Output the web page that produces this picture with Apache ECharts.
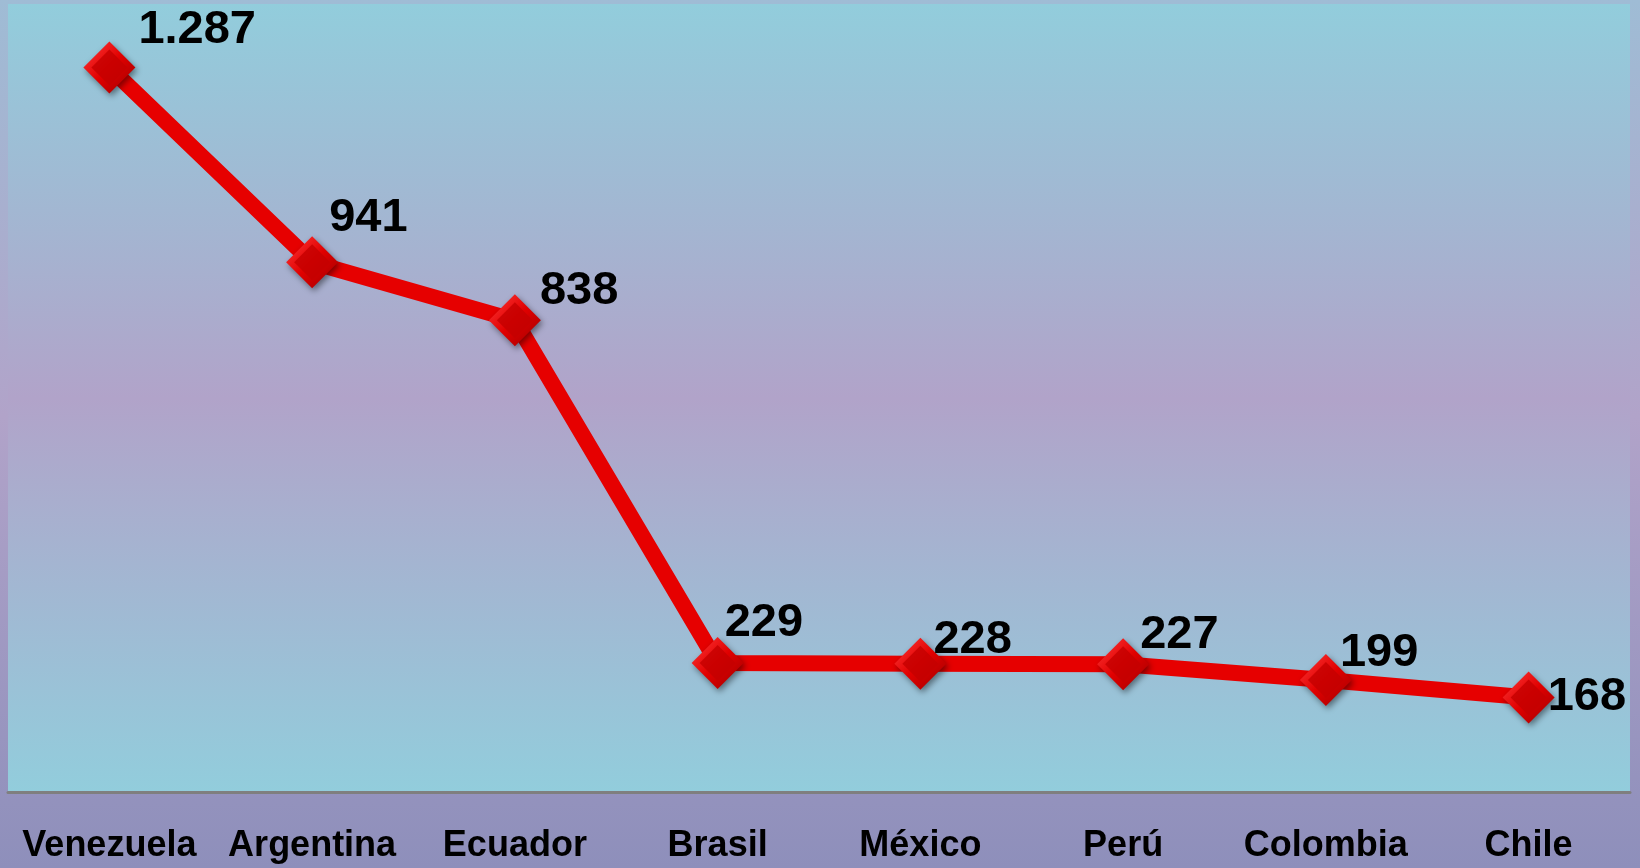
<!DOCTYPE html>
<html>
<head>
<meta charset="utf-8">
<script src="https://cdn.jsdelivr.net/npm/echarts@6/dist/echarts.min.js"></script>
<style>
html,body{margin:0;padding:0;width:1640px;height:868px;overflow:hidden;}
#chart{width:1640px;height:868px;}
</style>
</head>
<body>
<div id="chart"></div>
<script>
// ---- data ----
var categories = ['Venezuela', 'Argentina', 'Ecuador', 'Brasil', 'México', 'Perú', 'Colombia', 'Chile'];
var values = [1287, 941, 838, 229, 228, 227, 199, 168];

// ---- label placement (style, px relative to marker centre) ----
var labelNudge = [[29, -38], [17, -44], [25, -29], [7, -40], [13, -24], [17, -29], [14, -27], [19, 0]];

function fmt(v) {
  return String(v).replace(/\B(?=(\d{3})+(?!\d))/g, '.');
}

var chart = echarts.init(document.getElementById('chart'));

var lineData = values.map(function (v, i) {
  return { value: v, label: { offset: labelNudge[i] } };
});

var FONT = '"Liberation Sans", Arial, Helvetica, sans-serif';

var option = {
  animation: false,
  backgroundColor: {
    type: 'linear', x: 0, y: 0, x2: 0, y2: 1,
    colorStops: [
      { offset: 0, color: '#9fbcd5' },
      { offset: 0.48, color: '#b1a3c9' },
      { offset: 1, color: '#8e8fbb' }
    ]
  },
  grid: {
    left: 8, right: 10, top: 4, bottom: 76,
    show: true,
    borderWidth: 0,
    backgroundColor: {
      type: 'linear', x: 0, y: 0, x2: 0, y2: 1,
      colorStops: [
        { offset: 0, color: '#92cddc' },
        { offset: 0.5, color: '#b1a3c9' },
        { offset: 1, color: '#92cddc' }
      ]
    }
  },
  xAxis: {
    type: 'category',
    data: categories,
    boundaryGap: true,
    axisLine: { show: true, lineStyle: { color: '#7f7f7f', width: 3 } },
    axisTick: { show: false },
    axisLabel: {
      color: '#000',
      fontFamily: FONT,
      fontWeight: 'bold',
      fontSize: 36,
      margin: 36,
      interval: 0
    }
  },
  yAxis: {
    type: 'value',
    min: 0,
    max: 1400,
    show: false,
    splitLine: { show: false }
  },
  series: [
    {
      type: 'line',
      data: lineData,
      z: 2,
      symbol: 'diamond',
      symbolSize: 52,
      lineStyle: { color: '#e60000', width: 16 },
      itemStyle: {
        color: {
          type: 'linear', x: 0, y: 0, x2: 1, y2: 1,
          colorStops: [
            { offset: 0, color: '#ff3b3b' },
            { offset: 0.5, color: '#e00000' },
            { offset: 1, color: '#a00000' }
          ]
        },
        shadowColor: 'rgba(0,0,0,0.45)',
        shadowBlur: 6,
        shadowOffsetX: 2,
        shadowOffsetY: 3
      },
      label: {
        show: true,
        position: 'inside',
        align: 'left',
        verticalAlign: 'middle',
        color: '#000',
        fontFamily: FONT,
        fontWeight: 'bold',
        fontSize: 47,
        formatter: function (p) { return fmt(p.value); }
      },
      emphasis: { disabled: true }
    },
    {
      type: 'scatter',
      data: values,
      z: 3,
      symbol: 'diamond',
      symbolSize: 36,
      itemStyle: { color: '#c40000' },
      silent: true,
      emphasis: { disabled: true }
    }
  ]
};

chart.setOption(option);
</script>
</body>
</html>
